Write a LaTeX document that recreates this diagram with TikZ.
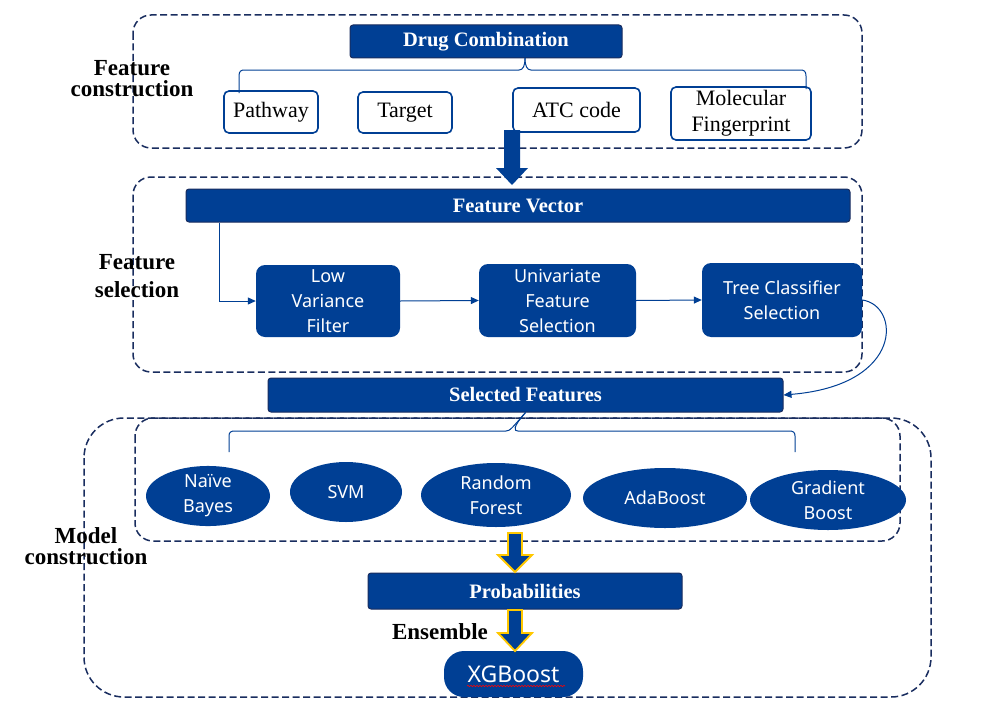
\documentclass[tikz,border=0pt]{standalone}
\usepackage{fontspec}
\setmainfont{Liberation Serif}
\newfontfamily\sansf{Noto Sans}
\usetikzlibrary{arrows.meta,shapes.geometric,decorations.pathmorphing,calc}
\definecolor{nblue}{RGB}{0,63,148}
\definecolor{dnavy}{RGB}{25,45,95}
\definecolor{ayellow}{RGB}{255,200,0}
\tikzset{
  bar/.style={draw=dnavy, line width=1pt, fill=nblue, rounded corners=3pt, text=white,
    font=\bfseries\fontsize{20.5}{22}\selectfont, inner sep=0pt},
  wbox/.style={draw=nblue, line width=1.6pt, rounded corners=5pt, fill=white,
    font=\fontsize{22}{24}\selectfont, inner sep=0pt, align=center},
  bbox/.style={fill=nblue, rounded corners=9pt, text=white, inner sep=0pt, align=center,
    font=\sansf\fontsize{18}{25}\selectfont},
  ell/.style={ellipse, fill=nblue, text=white, inner sep=0pt, align=center,
    font=\sansf\fontsize{18}{25}\selectfont},
  dbox/.style={draw=dnavy, line width=1.5pt, dash pattern=on 7pt off 3.5pt},
  lbl/.style={font=\bfseries\fontsize{23}{21}\selectfont, align=center, inner sep=0pt},
  conn/.style={draw=nblue, line width=1pt},
  arr/.style={conn, -{Triangle[length=8pt,width=7pt]}},
  barrow/.style={fill=nblue},
  yarrow/.style={fill=nblue, draw=ayellow, line width=1.8pt, line join=miter},
}
\begin{document}
\begin{tikzpicture}[x=1pt,y=-1pt]
\useasboundingbox (0,0) rectangle (1000,709);
\fill[white] (0,0) rectangle (1000,709);

% dashed group boxes
\draw[dbox, rounded corners=18pt] (133,15) rectangle (862,148);
\draw[dbox, rounded corners=18pt] (133,177) rectangle (862,372);
\draw[dbox, rounded corners=40pt] (84,418) rectangle (931,697);
\draw[dbox, rounded corners=18pt] (135,418) rectangle (900,541);

% section labels
\node[lbl] (lab1) at (132,79) {Feature\\construction};
\node[lbl, font=\bfseries\fontsize{23}{28}\selectfont] (lab2) at (137,276) {Feature\\selection};
\node[lbl] (lab3) at (86,546) {Model\\construction};

% feature construction
\node[bar, minimum width=272pt, minimum height=33pt] (dc) at (486,41.5) {Drug Combination};
\node[wbox, minimum width=94pt, minimum height=42pt] (pw) at (271,112) {Pathway};
\node[wbox, minimum width=94pt, minimum height=41pt] (tg) at (405,112.5) {Target};
\node[wbox, minimum width=127pt, minimum height=44pt] (atc) at (576.5,110) {ATC code};
\node[wbox, minimum width=140pt, minimum height=53pt, font=\fontsize{22}{26}\selectfont] (mf) at (741,113.5) {Molecular\\Fingerprint};

\coordinate (b1) at (525,58);
\draw[conn] (239,93) -- (239,76) .. controls (239,71) and (241,70) .. (245,70)
  -- (519,70) .. controls (523,70) and (525,66) .. (b1);
\draw[conn] (806,89) -- (806,76) .. controls (806,71) and (804,70) .. (800,70)
  -- (531,70) .. controls (527,70) and (525,66) .. (b1);

% big arrow to feature vector
\node[bar, minimum width=664pt, minimum height=33pt] (fv) at (518,205.5) {Feature Vector};
\fill[barrow] (504,130) -- (520,130) -- (520,168) -- (528,168) -- (512,185) -- (496,168) -- (504,168) -- cycle;

% feature selection
\node[bbox, minimum width=144pt, minimum height=72pt] (lvf) at (328,301) {Low\\Variance\\Filter};
\node[bbox, minimum width=157pt, minimum height=73pt] (ufs) at (557.5,300.5) {Univariate\\Feature\\Selection};
\node[bbox, minimum width=160pt, minimum height=74pt] (tcs) at (782,300) {Tree Classifier\\Selection};

\draw[arr] ($(fv.south west)+(34,0)$) |- (lvf.west);
\draw[arr] (lvf.east) -- (ufs.west);
\draw[arr] (ufs.east) -- (tcs.west);

\node[bar, minimum width=515pt, minimum height=34pt] (sf) at (525.5,395) {Selected Features};
\draw[arr] (tcs.east) .. controls (900,305) and (905,385) .. (sf.east);

% model construction
\draw[conn] (229,452) -- (229,436) .. controls (229,432) and (231,431) .. (235,431)
  -- (506,431) .. controls (510,431) and (512,428) .. (sf.south);
\draw[conn] (795,452) -- (795,436) .. controls (795,432) and (793,431) .. (789,431)
  -- (518,431) .. controls (514,431) and (512,428) .. (sf.south);

\node[ell, minimum width=124pt, minimum height=60pt] (nb) at (208,496) {Naïve\\Bayes};
\node[ell, minimum width=112pt, minimum height=60pt] (svm) at (346,492) {SVM};
\node[ell, minimum width=150pt, minimum height=64pt] (rf) at (496,495) {Random\\Forest};
\node[ell, minimum width=164pt, minimum height=60pt] (ada) at (665,498) {AdaBoost};
\node[ell, minimum width=156pt, minimum height=60pt] (gb) at (828,500) {Gradient\\Boost};

\node[bar, minimum width=314pt, minimum height=36pt] (pr) at (525,591) {Probabilities};
\draw[yarrow] (508,533) -- (522,533) -- (522,555) -- (532,555) -- (515,572) -- (498,555) -- (508,555) -- cycle;

\node[font=\bfseries\fontsize{23}{26}\selectfont, inner sep=0pt] (ens) at (440,632) {Ensemble};
\node[fill=nblue, rounded corners=20pt, text=white, inner sep=0pt,
  minimum width=139pt, minimum height=46pt, font=\sansf\fontsize{23}{26}\selectfont] (xgb) at (513.5,674) {XGBoost};
\draw[yarrow] (508,610) -- (522,610) -- (522,633) -- (532,633) -- (515,651) -- (498,633) -- (508,633) -- cycle;
\draw[red, line width=0.6pt, decorate, decoration={snake, amplitude=0.7pt, segment length=3pt}] (467,686) -- (565,686);
\end{tikzpicture}
\end{document}
